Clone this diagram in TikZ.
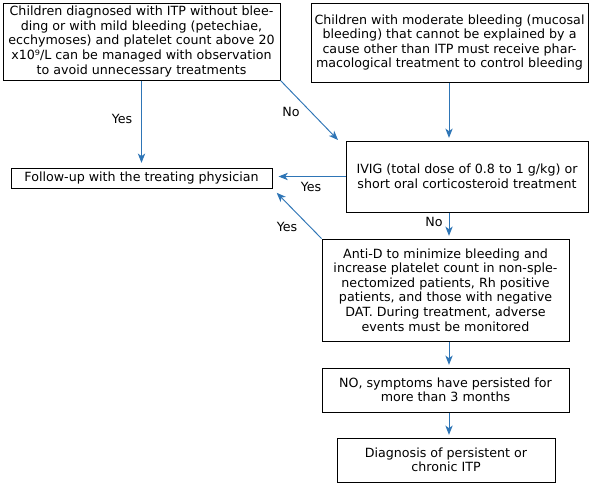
\documentclass[tikz,border=0pt]{standalone}
\usepackage{fontspec}
\setmainfont{DejaVu Sans}
\usetikzlibrary{arrows.meta,calc}
\definecolor{arrblue}{HTML}{2E75B6}
\begin{document}
\begin{tikzpicture}[x=0.75pt,y=-0.75pt,
  box/.style={draw=black,line width=0.75pt,inner sep=0pt,align=center,
    font=\fontsize{9.5}{10.9}\selectfont},
  arr/.style={draw=arrblue,line width=0.7pt,-{Stealth[length=7pt,width=5.5pt,inset=2pt]}},
  lab/.style={font=\fontsize{9.5}{10.9}\selectfont,inner sep=0pt}]
\useasboundingbox (0,0) rectangle (589,486);
\fill[white] (0,0) rectangle (589,486);
\node[box,minimum width=207.75pt,minimum height=57.75pt] (A) at (141.5,41.5)
 {Children diagnosed with ITP without blee-\\ding or with mild bleeding (petechiae,\\ecchymoses) and platelet count above 20\\x10⁹/L can be managed with observation\\to avoid unnecessary treatments};
\node[box,minimum width=207.75pt,minimum height=59.25pt] (B) at (449.5,42.5)
 {Children with moderate bleeding (mucosal\\bleeding) that cannot be explained by a\\cause other than ITP must receive phar-\\macological treatment to control bleeding};
\node[box,minimum width=195.75pt,minimum height=15pt] (F) at (141.5,178)
 {Follow-up with the treating physician};
\node[box,minimum width=181.5pt,minimum height=53.25pt] (I) at (467,176.5)
 {IVIG (total dose of 0.8 to 1 g/kg) or\\short oral corticosteroid treatment};
\node[box,minimum width=185.25pt,minimum height=76.5pt] (D) at (445.5,290)
 {Anti-D to minimize bleeding and\\increase platelet count in non-sple-\\nectomized patients, Rh positive\\patients, and those with negative\\DAT. During treatment, adverse\\events must be monitored};
\node[box,minimum width=185.25pt,minimum height=33pt] (N) at (445.5,390)
 {NO, symptoms have persisted for\\more than 3 months};
\node[box,minimum width=163.5pt,minimum height=33pt] (G) at (446,460)
 {Diagnosis of persistent or\\chronic ITP};
\coordinate (noend) at (338,140);
\draw[arr,shorten >=3.5pt] (A.south) -- (F.north);
\draw[arr] (A.south east) -- (noend);
\draw[arr,shorten >=2pt] (B.south -| 449,0) -- (I.north -| 449,0);
\draw[arr,shorten >=4.5pt] (I.west) -- (I.west -| F.east);
\draw[arr,shorten >=2pt] (I.south -| 449,0) -- (D.north -| 449,0);
\draw[arr,shorten >=4.5pt] (D.north west) -- (F.south east);
\draw[arr,shorten >=2pt] (D.south -| 449,0) -- (N.north -| 449,0);
\draw[arr,shorten >=2pt] (N.south -| 449,0) -- (G.north -| 449,0);
\node[lab] (l1) at (122,119) {Yes};
\node[lab] (l2) at (291,112) {No};
\node[lab] (l3) at (311,187) {Yes};
\node[lab] (l4) at (434,222) {No};
\node[lab] (l5) at (287,227) {Yes};
\end{tikzpicture}
\end{document}
